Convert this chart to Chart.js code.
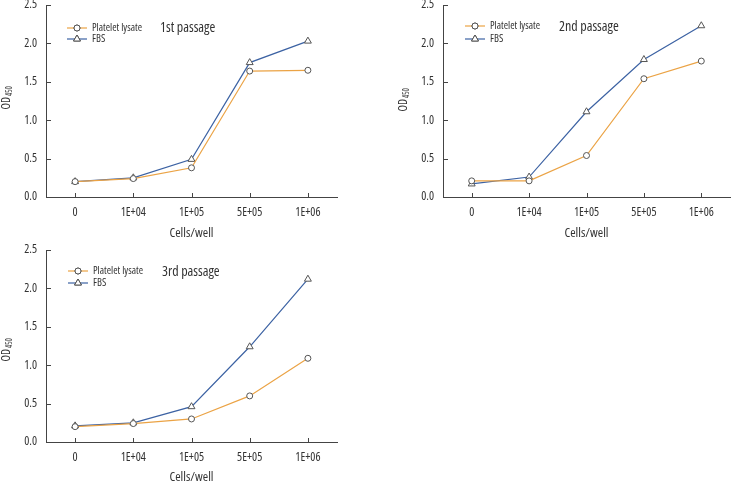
<!DOCTYPE html>
<html>
<head>
<meta charset="utf-8">
<script src="https://cdn.jsdelivr.net/npm/chart.js@4/dist/chart.umd.min.js"></script>
<style>
  body { margin: 0; background: #fff; }
  .panel { position: absolute; }
</style>
</head>
<body>
<div class="panel" style="left:0;top:0"><canvas id="c1" width="370" height="240"></canvas></div>
<div class="panel" style="left:370px;top:0"><canvas id="c2" width="365" height="240"></canvas></div>
<div class="panel" style="left:0;top:240px"><canvas id="c3" width="370" height="242"></canvas></div>
<script>
var categories = ['0', '1E+04', '1E+05', '5E+05', '1E+06'];
var seriesNames = ['Platelet lysate', 'FBS'];
var passages = ['1st passage', '2nd passage', '3rd passage'];

var p1Lysate = [0.20, 0.24, 0.38, 1.64, 1.65];
var p1Fbs    = [0.20, 0.25, 0.49, 1.75, 2.03];
var p2Lysate = [0.21, 0.21, 0.54, 1.54, 1.77];
var p2Fbs    = [0.17, 0.26, 1.11, 1.79, 2.23];
var p3Lysate = [0.20, 0.24, 0.30, 0.60, 1.09];
var p3Fbs    = [0.21, 0.25, 0.46, 1.24, 2.12];

var yTicks = [0, 0.5, 1.0, 1.5, 2.0, 2.5];

// 'condensed' goes in through the weight slot so the canvas font string picks the narrow width
var FAMILY = "'Open Sans', sans-serif";
var STRETCH = 'condensed';
var ORANGE = '#eba345';
var BLUE = '#3c62a3';
var MARKER = '#555';
var AXIS = '#444';
var TEXT = '#333';

function cfont(size) { return STRETCH + ' ' + size + 'px ' + FAMILY; }

// small inward tick marks, y title with subscript, in-plot legend and passage label
var decorations = {
    id: 'decorations',
    afterDraw: function(chart, args, opts) {
        var ctx = chart.ctx;
        var xs = chart.scales.x, ys = chart.scales.y;
        var area = chart.chartArea;
        ctx.save();
        ctx.strokeStyle = AXIS;
        ctx.lineWidth = 1;
        ctx.beginPath();
        for (var i = 0; i < xs.ticks.length; i++) {
            var px = Math.round(xs.getPixelForTick(i)) + 0.5;
            ctx.moveTo(px, area.bottom);
            ctx.lineTo(px, area.bottom - 4);
        }
        for (var j = 0; j < ys.ticks.length; j++) {
            var py = Math.round(ys.getPixelForTick(j)) + 0.5;
            ctx.moveTo(area.left, py);
            ctx.lineTo(area.left + 5, py);
        }
        ctx.stroke();

        // y title OD450
        ctx.fillStyle = TEXT;
        ctx.translate(opts.yTitleX, (area.top + area.bottom) / 2 + opts.yTitleDy);
        ctx.rotate(-Math.PI / 2);
        ctx.textBaseline = 'middle';
        ctx.textAlign = 'left';
        ctx.font = cfont(12);
        var w = ctx.measureText('OD').width;
        var sub = '450';
        ctx.font = cfont(8);
        var ws = ctx.measureText(sub).width;
        var start = -(w + ws) / 2;
        ctx.font = cfont(12);
        ctx.fillText('OD', start, 0);
        ctx.font = cfont(8);
        ctx.fillText(sub, start + w + 0.5, 2.5);
        ctx.restore();

        // legend
        ctx.save();
        ctx.textBaseline = 'middle';
        ctx.textAlign = 'left';
        ctx.font = cfont(10.5);
        chart.data.datasets.forEach(function(ds, k) {
            var lx = area.left + opts.legendX;
            var ly = area.top + opts.legendY + k * opts.legendGap;
            ctx.strokeStyle = ds.borderColor;
            ctx.lineWidth = 1.2;
            ctx.beginPath();
            ctx.moveTo(lx, ly);
            ctx.lineTo(lx + 20, ly);
            ctx.stroke();
            ctx.strokeStyle = ds.pointBorderColor;
            ctx.lineWidth = 1;
            Chart.helpers.drawPoint(ctx, {
                pointStyle: ds.pointStyle,
                radius: ds.pointRadius,
                borderWidth: 1
            }, lx + 10, ly);
            ctx.fillStyle = '#fff';
            ctx.fill();
            ctx.stroke();
            ctx.fillStyle = TEXT;
            ctx.fillText(ds.label, lx + 25, ly);
        });
        ctx.font = cfont(14);
        ctx.fillText(opts.title, area.left + opts.titleX, area.top + opts.titleY);
        ctx.restore();
    }
};

function makeChart(id, lysate, fbs, title, lay) {
    var ctx = document.getElementById(id).getContext('2d');
    var tickFont = { family: FAMILY, weight: STRETCH, size: 12 };
    return new Chart(ctx, {
        type: 'line',
        data: {
            labels: categories,
            datasets: [{
                label: seriesNames[0],
                data: lysate,
                borderColor: ORANGE,
                backgroundColor: '#fff',
                borderWidth: 1.2,
                pointStyle: 'circle',
                pointRadius: 3,
                pointBorderColor: MARKER,
                pointBackgroundColor: '#fff',
                pointBorderWidth: 1,
                tension: 0
            }, {
                label: seriesNames[1],
                data: fbs,
                borderColor: BLUE,
                backgroundColor: '#fff',
                borderWidth: 1.2,
                pointStyle: 'triangle',
                pointRadius: 4,
                pointBorderColor: MARKER,
                pointBackgroundColor: '#fff',
                pointBorderWidth: 1,
                tension: 0
            }]
        },
        options: {
            responsive: false,
            animation: false,
            layout: { padding: { left: 0, top: lay.top, right: lay.right, bottom: 0 } },
            plugins: {
                legend: { display: false },
                tooltip: { enabled: false },
                decorations: {
                    title: title,
                    yTitleX: lay.yTitleX,
                    yTitleDy: lay.yTitleDy,
                    legendX: lay.legendX,
                    legendY: lay.legendY,
                    legendGap: lay.legendGap,
                    titleX: lay.titleX,
                    titleY: lay.titleY
                }
            },
            scales: {
                x: {
                    type: 'category',
                    offset: true,
                    grid: { display: false, drawTicks: false },
                    border: { display: true, color: AXIS, width: 1 },
                    ticks: { color: TEXT, padding: lay.xPad, font: tickFont },
                    title: {
                        display: true, text: 'Cells/well', color: TEXT,
                        padding: { top: 0, bottom: lay.titlePad },
                        font: { family: FAMILY, weight: STRETCH, size: 13 }
                    },
                    afterFit: function(scale) {
                        scale.height = lay.xHeight;
                        scale.paddingLeft = 0;
                        scale.paddingRight = 0;
                    }
                },
                y: {
                    min: 0,
                    max: 2.5,
                    afterBuildTicks: function(scale) {
                        scale.ticks = yTicks.map(function(v) { return { value: v }; });
                    },
                    grid: { display: false, drawTicks: false },
                    border: { display: true, color: AXIS, width: 1 },
                    ticks: {
                        color: TEXT, padding: 9,
                        font: tickFont,
                        callback: function(v) { return Number(v).toFixed(1); }
                    },
                    afterFit: function(scale) {
                        scale.width = lay.yWidth;
                        scale.paddingTop = 0;
                        scale.paddingBottom = 0;
                    }
                }
            }
        },
        plugins: [decorations]
    });
}

window.onload = function() {
    makeChart('c1', p1Lysate, p1Fbs, passages[0],
        { top: 5, right: 33, yWidth: 46, xHeight: 43, xPad: 8, titlePad: -1, yTitleX: 7, yTitleDy: -3,
          legendX: 21, legendY: 23, legendGap: 11, titleX: 114, titleY: 23 });
    makeChart('c2', p2Lysate, p2Fbs, passages[1],
        { top: 5, right: 2, yWidth: 73, xHeight: 43, xPad: 8, titlePad: -1, yTitleX: 34, yTitleDy: -1,
          legendX: 22, legendY: 21, legendGap: 13, titleX: 116, titleY: 22 });
    makeChart('c3', p3Lysate, p3Fbs, passages[2],
        { top: 10, right: 33, yWidth: 46, xHeight: 40, xPad: 8, titlePad: -3, yTitleX: 7, yTitleDy: 4,
          legendX: 22, legendY: 21, legendGap: 12, titleX: 116, titleY: 22 });
};
</script>
</body>
</html>
